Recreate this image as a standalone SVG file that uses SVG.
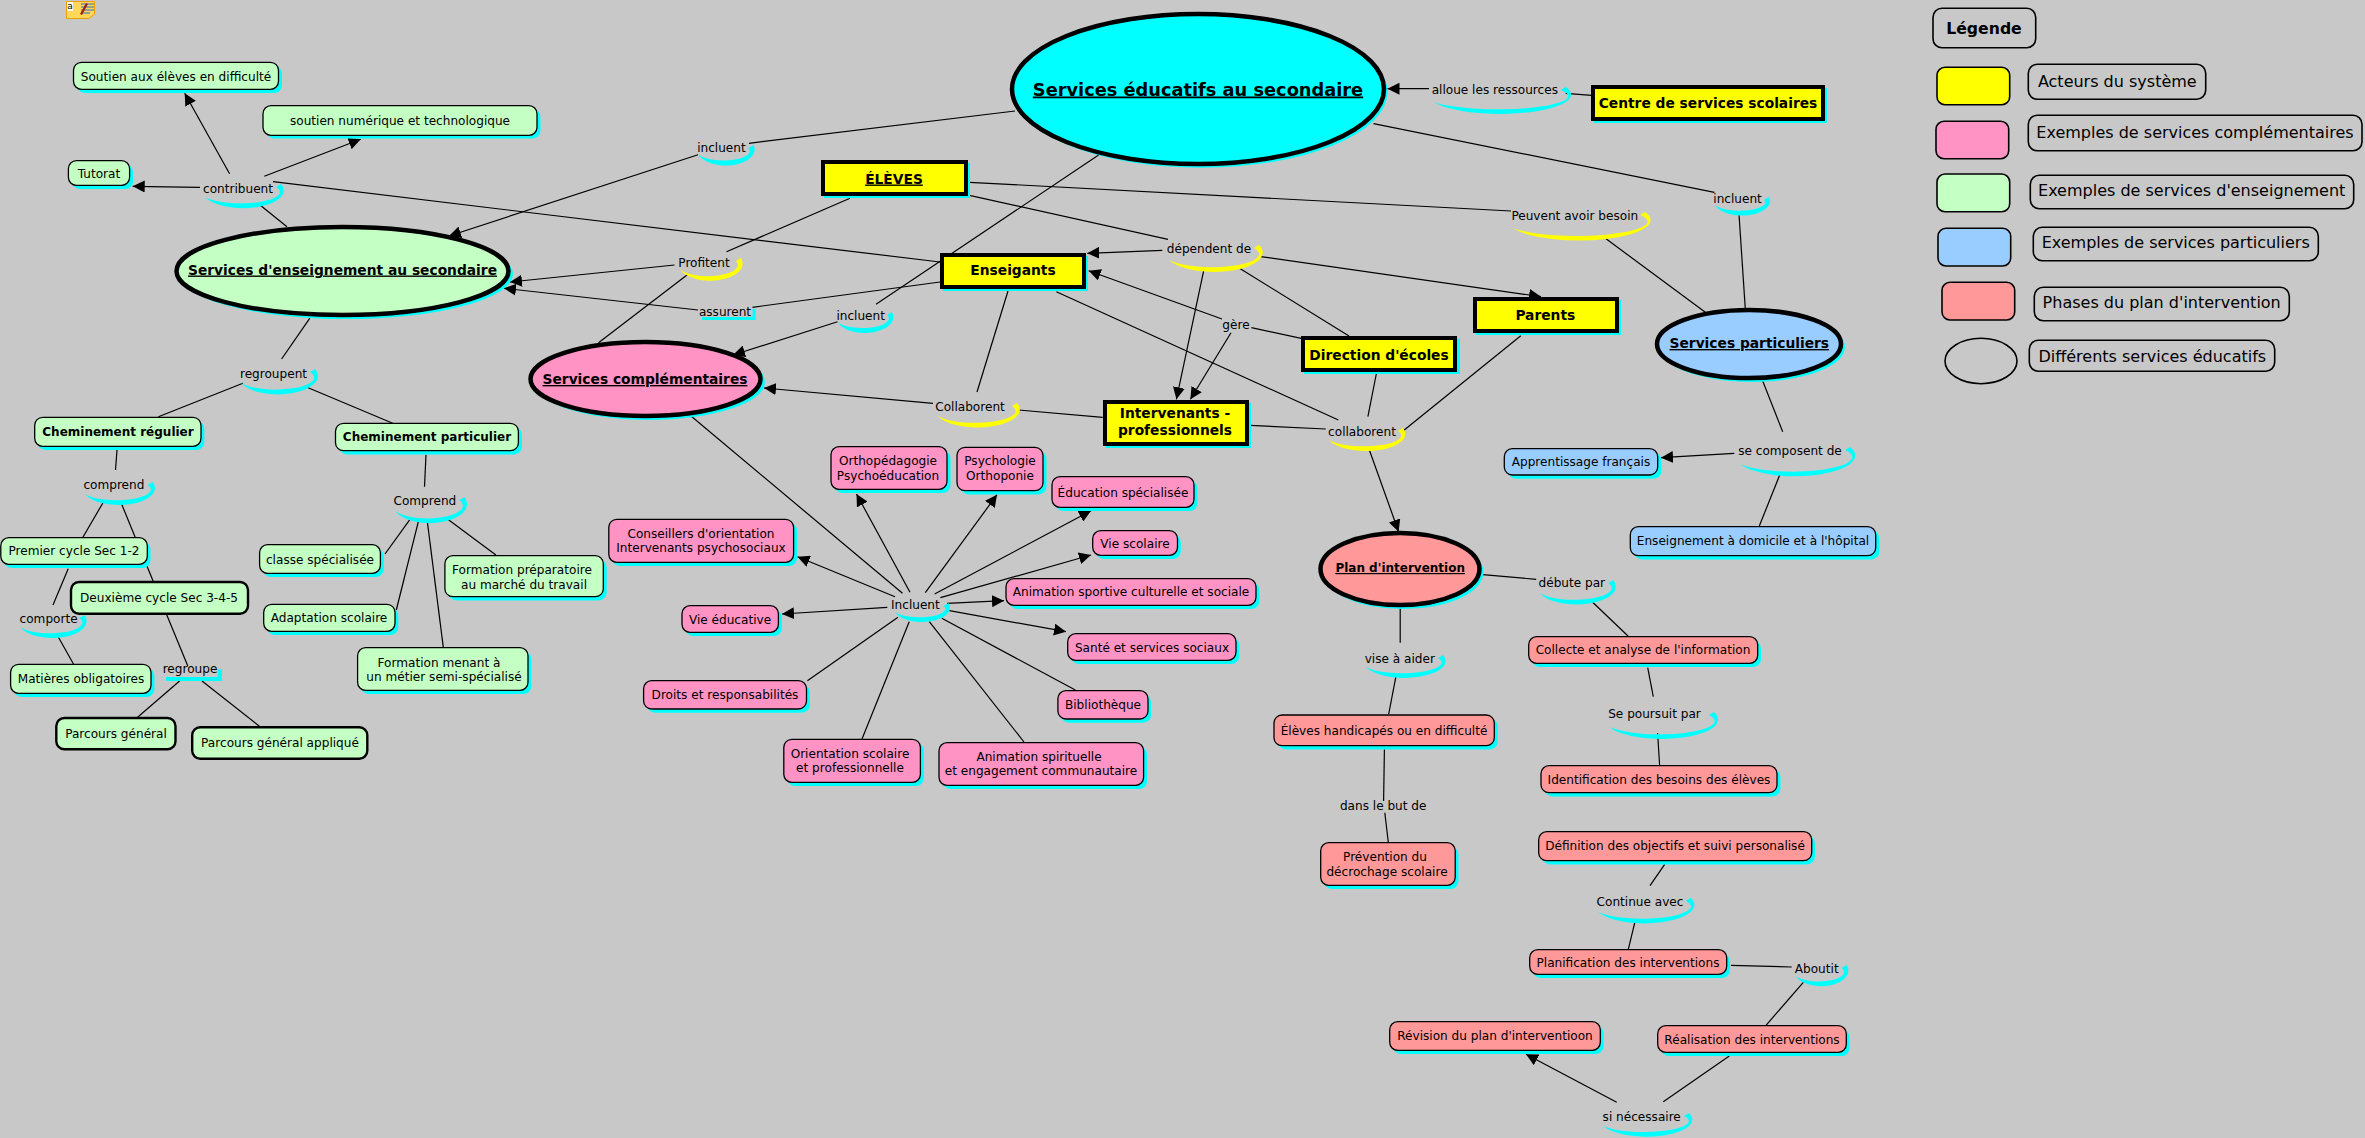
<svg xmlns="http://www.w3.org/2000/svg" width="2365" height="1138" viewBox="0 0 2365 1138">
<style>
text{font-family:"DejaVu Sans","Verdana",sans-serif;font-size:12.1px;fill:#000;text-anchor:middle}
.b{font-weight:bold;font-size:12px}
.u{text-decoration:underline}
.t{font-weight:bold;font-size:13.8px}
.lg{font-size:16px}
.c{stroke:#000;stroke-width:1.2;fill:none}
.a{marker-end:url(#ah)}
.s{fill:#0ff;stroke:none}
.y{fill:#ff0;stroke:none}
.n{stroke:#000;stroke-width:1.3}
.k{stroke:#000;stroke-width:2.4}
.e{stroke:#000;stroke-width:4.5}
.q{stroke:#000;stroke-width:4}
.g{fill:#c4ffc4}.p{fill:#ff93c3}.bl{fill:#99ccff}.r{fill:#ff9999}.ye{fill:#ff0}
.l{fill:none;stroke:#000;stroke-width:1.6}
</style>
<defs>
<marker id="ah" markerUnits="userSpaceOnUse" markerWidth="13" markerHeight="12" refX="12" refY="6" orient="auto"><path d="M0 0L12 6L0 12Z" fill="#000"/></marker>
</defs>
<rect width="2365" height="1138" fill="#c8c8c8"/>

<g id="connectors">
<line class="c a" x1="229.6" y1="173.7" x2="184.7" y2="93.3"/>
<line class="c a" x1="264.3" y1="176.3" x2="360.7" y2="139.3"/>
<line class="c a" x1="200" y1="187.3" x2="132.7" y2="186.3"/>
<line class="c" x1="273" y1="181.7" x2="940" y2="262"/>
<line class="c" x1="260" y1="205" x2="287" y2="226.7"/>
<line class="c" x1="749" y1="143.3" x2="1015" y2="111"/>
<line class="c a" x1="698" y1="154.7" x2="449" y2="236"/>
<line class="c" x1="726.5" y1="251.7" x2="850" y2="198.3"/>
<line class="c a" x1="674.5" y1="265" x2="510" y2="282"/>
<line class="c" x1="687" y1="275" x2="598.5" y2="342.7"/>
<line class="c" x1="752.5" y1="307.3" x2="940" y2="282"/>
<line class="c a" x1="698" y1="310" x2="504" y2="288.3"/>
<line class="c" x1="309.7" y1="318.3" x2="281.6" y2="359"/>
<line class="c a" x1="837.5" y1="321.7" x2="733" y2="355"/>
<line class="c a" x1="933" y1="403.3" x2="764" y2="388"/>
<line class="c" x1="242.9" y1="383.3" x2="158.4" y2="416.7"/>
<line class="c" x1="307" y1="387.3" x2="392.7" y2="423.3"/>
<line class="c" x1="117" y1="450" x2="115.5" y2="470"/>
<line class="c" x1="103" y1="502.7" x2="82.9" y2="537.3"/>
<line class="c" x1="121.6" y1="504" x2="153.5" y2="582"/>
<line class="c" x1="68.2" y1="568.7" x2="53" y2="605"/>
<line class="c" x1="58.4" y1="637.3" x2="73.5" y2="664"/>
<line class="c" x1="166.5" y1="614.3" x2="187.8" y2="666"/>
<line class="c" x1="179.6" y1="681" x2="136.7" y2="718"/>
<line class="c" x1="202" y1="681" x2="260" y2="726.7"/>
<line class="c" x1="426" y1="454.7" x2="424.5" y2="486.7"/>
<line class="c" x1="410" y1="519.3" x2="385" y2="554"/>
<line class="c" x1="418.4" y1="521.3" x2="396.3" y2="610"/>
<line class="c" x1="427.3" y1="521.3" x2="443.3" y2="647.3"/>
<line class="c" x1="447.8" y1="519.3" x2="495.9" y2="555"/>
<line class="c" x1="1591.6" y1="95.3" x2="1565.7" y2="93.3"/>
<line class="c a" x1="1429" y1="88.7" x2="1387.5" y2="88.7"/>
<line class="c" x1="1373.5" y1="123.7" x2="1714.4" y2="192.3"/>
<line class="c" x1="1739" y1="214.3" x2="1745.3" y2="309"/>
<line class="c" x1="969.4" y1="182.3" x2="1511" y2="211"/>
<line class="c" x1="1604" y1="237.3" x2="1706" y2="312.7"/>
<line class="c" x1="969.4" y1="195.3" x2="1168" y2="239.3"/>
<line class="c a" x1="1162.3" y1="250.3" x2="1087.3" y2="253.3"/>
<line class="c a" x1="1259" y1="256.3" x2="1541" y2="296.7"/>
<line class="c a" x1="1203.7" y1="270.7" x2="1176.4" y2="399.3"/>
<line class="c" x1="1239.5" y1="268.3" x2="1349" y2="336"/>
<line class="c" x1="1008" y1="291" x2="977" y2="392"/>
<line class="c" x1="1056.4" y1="291.7" x2="1338.4" y2="420"/>
<line class="c" x1="1099" y1="154.7" x2="876" y2="304.3"/>
<line class="c" x1="1301.2" y1="338.3" x2="1251.4" y2="327.7"/>
<line class="c a" x1="1222" y1="319" x2="1088.7" y2="270.7"/>
<line class="c a" x1="1231" y1="332.7" x2="1190.4" y2="399.3"/>
<line class="c" x1="1376.3" y1="374" x2="1367.9" y2="416.7"/>
<line class="c" x1="1520.8" y1="335.7" x2="1403" y2="431"/>
<line class="c" x1="1018.5" y1="410" x2="1102.7" y2="417.3"/>
<line class="c" x1="1250" y1="425.3" x2="1325.8" y2="429"/>
<line class="c a" x1="1369" y1="449" x2="1398.6" y2="531.7"/>
<line class="c" x1="1762.7" y1="381" x2="1782.7" y2="431.7"/>
<line class="c a" x1="1734.3" y1="453.3" x2="1661" y2="457.7"/>
<line class="c" x1="1780" y1="474.3" x2="1759.3" y2="526"/>
<line class="c" x1="691" y1="416" x2="902.5" y2="593.3"/>
<line class="c a" x1="895" y1="596.7" x2="797.6" y2="556.7"/>
<line class="c a" x1="910" y1="592.3" x2="856.5" y2="494"/>
<line class="c a" x1="925.3" y1="592.7" x2="997" y2="494.7"/>
<line class="c a" x1="934.6" y1="594" x2="1091" y2="510.7"/>
<line class="c a" x1="940.4" y1="597.7" x2="1091" y2="555"/>
<line class="c a" x1="947" y1="603.3" x2="1004" y2="600.7"/>
<line class="c a" x1="949.4" y1="610.7" x2="1066" y2="631.7"/>
<line class="c" x1="941.8" y1="618.3" x2="1075.3" y2="690"/>
<line class="c" x1="929.3" y1="621.7" x2="1024" y2="742"/>
<line class="c" x1="909.2" y1="621.7" x2="861.9" y2="739.3"/>
<line class="c" x1="898" y1="617.3" x2="807.4" y2="680.7"/>
<line class="c a" x1="887.3" y1="607.3" x2="782" y2="614"/>
<line class="c" x1="1482.8" y1="574.7" x2="1536.2" y2="579.3"/>
<line class="c" x1="1592.4" y1="602" x2="1628" y2="636"/>
<line class="c" x1="1647.7" y1="667.7" x2="1653.3" y2="696.7"/>
<line class="c" x1="1657.6" y1="733.3" x2="1659.6" y2="765"/>
<line class="c" x1="1400.2" y1="608.3" x2="1400.2" y2="642.7"/>
<line class="c" x1="1395.9" y1="676.7" x2="1388.7" y2="714"/>
<line class="c" x1="1384.4" y1="749.3" x2="1383.6" y2="801"/>
<line class="c" x1="1384.8" y1="812.7" x2="1388.3" y2="842.3"/>
<line class="c" x1="1664.7" y1="864.3" x2="1650" y2="885.7"/>
<line class="c" x1="1635" y1="921.7" x2="1628.3" y2="949.3"/>
<line class="c" x1="1731" y1="965.3" x2="1791.7" y2="967"/>
<line class="c" x1="1803.3" y1="982.3" x2="1766" y2="1025.3"/>
<line class="c" x1="1729.3" y1="1056" x2="1663.3" y2="1101.7"/>
<line class="c a" x1="1616.7" y1="1102.3" x2="1526" y2="1054.3"/>
</g>

<g id="icon">
<path d="M66.5 1.5H94.5V14L89 18.500H66.5Z" fill="#ffd75a" stroke="#eba000"/>
<rect x="67" y="2" width="6" height="9" fill="#fff"/>
<text x="70" y="9" style="font-size:9px">a</text>
<path d="M81 4H94M81 7H94M81 10H94M81 13H90" stroke="#2a6fc0" stroke-width="1" fill="none"/>
<path d="M80 14L86 3L88 4L82 15Z" fill="#a02020"/>
</g>

<g id="n-educ"><ellipse class="s" cx="1201" cy="92" rx="186.6" ry="75.7"/><ellipse class="e" cx="1198" cy="89" rx="186" ry="75" fill="#0ff"/><text class="u" x="1198" y="95.5" style="font-size:17.8px;font-weight:bold">Services éducatifs au secondaire</text></g>
<g id="n-ens-sec"><ellipse class="s" cx="346" cy="274" rx="167" ry="45"/><ellipse class="e g" cx="342.5" cy="271" rx="166" ry="44"/><text class="t u" x="342.5" y="274.5">Services d'enseignement au secondaire</text></g>
<g id="n-compl"><ellipse class="s" cx="649" cy="382" rx="116" ry="38"/><ellipse class="e p" cx="645.5" cy="379" rx="115" ry="37"/><text class="t u" x="645" y="384">Services complémentaires</text></g>
<g id="n-part"><ellipse class="s" cx="1752" cy="347" rx="93" ry="35"/><ellipse class="e bl" cx="1749" cy="344" rx="92" ry="34"/><text class="t u" x="1749.3" y="348">Services particuliers</text></g>
<g id="n-plan"><ellipse class="s" cx="1403" cy="572" rx="80.5" ry="37"/><ellipse class="e r" cx="1400" cy="569" rx="79.5" ry="36"/><text class="b u" x="1400.2" y="572">Plan d'intervention</text></g>

<g id="n-eleves"><rect class="s" x="824" y="163" width="146" height="35"/><rect class="q ye" x="823" y="162" width="143" height="32"/><text class="t u" x="894" y="183.5">ÉLÈVES</text></g>
<g id="n-enseignants"><rect class="s" x="943" y="256" width="145" height="35"/><rect class="q ye" x="942" y="255" width="142" height="32"/><text class="t" x="1013" y="275">Enseigants</text></g>
<g id="n-centre"><rect class="s" x="1594" y="88" width="233" height="35"/><rect class="q ye" x="1593" y="87" width="230" height="32"/><text class="t" x="1708" y="108">Centre de services scolaires</text></g>
<g id="n-parents"><rect class="s" x="1476" y="300" width="145" height="35"/><rect class="q ye" x="1475" y="299" width="142" height="32"/><text class="t" x="1545.3" y="320">Parents</text></g>
<g id="n-direction"><rect class="s" x="1304" y="339" width="156" height="35"/><rect class="q ye" x="1303" y="338" width="152" height="32"/><text class="t" x="1379" y="359.5">Direction d'écoles</text></g>
<g id="n-interv"><rect class="s" x="1106" y="403" width="145" height="45"/><rect class="q ye" x="1105" y="402" width="142" height="42"/><text class="t" x="1175" y="418">Intervenants -</text><text class="t" x="1175" y="434.5">professionnels</text></g>

<g id="n-soutien"><rect class="s" x="77" y="66" width="205" height="27" rx="8"/><rect class="n g" x="73.5" y="62.3" width="205" height="27" rx="8"/><text x="176" y="80.5">Soutien aux élèves en difficulté</text></g>
<g id="n-numerique"><rect class="s" x="266.5" y="109" width="274" height="29.6" rx="8"/><rect class="n g" x="263" y="105.7" width="274" height="29.6" rx="8"/><text x="400" y="124.5">soutien numérique et technologique</text></g>
<g id="n-tutorat"><rect class="s" x="72" y="164.5" width="61.2" height="24.6" rx="8"/><rect class="n g" x="68.4" y="160.7" width="61.2" height="24.6" rx="8"/><text x="99" y="177.5">Tutorat</text></g>
<g id="n-chemreg"><rect class="s" x="38" y="421" width="166.3" height="29" rx="8"/><rect class="n g" x="34.7" y="417.3" width="166.3" height="29" rx="8"/><text class="b" x="118" y="436">Cheminement régulier</text></g>
<g id="n-chempart"><rect class="s" x="339" y="427" width="182.9" height="27.4" rx="8"/><rect class="n g" x="335.5" y="423.3" width="182.9" height="27.4" rx="8"/><text class="b" x="427" y="440.5">Cheminement particulier</text></g>
<g id="n-premier"><rect class="s" x="4" y="541.4" width="146.5" height="26.6" rx="8"/><rect class="n g" x="0.8" y="537.7" width="146.5" height="26.6" rx="8"/><text x="74" y="554.5">Premier cycle Sec 1-2</text></g>
<g id="n-deuxieme"><rect class="k g" x="71" y="582" width="177" height="31.7" rx="8"/><text x="159" y="602">Deuxième cycle Sec 3-4-5</text></g>
<g id="n-matieres"><rect class="s" x="14" y="668" width="140.4" height="29" rx="8"/><rect class="n g" x="10.6" y="664.3" width="140.4" height="29" rx="8"/><text x="81" y="683">Matières obligatoires</text></g>
<g id="n-pgen"><rect class="k g" x="56.3" y="718" width="119.2" height="31.3" rx="8"/><text x="116" y="738">Parcours général</text></g>
<g id="n-papp"><rect class="k g" x="192.2" y="727.3" width="175.1" height="31.4" rx="8"/><text x="280" y="747">Parcours général appliqué</text></g>
<g id="n-classe"><rect class="s" x="263" y="548.4" width="120.8" height="28.6" rx="8"/><rect class="n g" x="259.6" y="544.7" width="120.8" height="28.6" rx="8"/><text x="320" y="563.5">classe spécialisée</text></g>
<g id="n-adapt"><rect class="s" x="267" y="608" width="131.3" height="27" rx="8"/><rect class="n g" x="263.7" y="604.3" width="131.3" height="27" rx="8"/><text x="329" y="621.5">Adaptation scolaire</text></g>
<g id="n-fprep"><rect class="s" x="448.3" y="559.4" width="158.4" height="41" rx="8"/><rect class="n g" x="444.9" y="555.7" width="158.4" height="41" rx="8"/><text x="522" y="574">Formation préparatoire</text><text x="524" y="588.5">au marché du travail</text></g>
<g id="n-fmetier"><rect class="s" x="361" y="651.4" width="170.4" height="42.6" rx="8"/><rect class="n g" x="357.6" y="647.7" width="170.4" height="42.6" rx="8"/><text x="439" y="666.5">Formation menant à</text><text x="444" y="681">un métier semi-spécialisé</text></g>

<g id="n-ortho"><rect class="s" x="834.5" y="450.4" width="116" height="42.6" rx="8"/><rect class="n p" x="831" y="446.7" width="116" height="42.6" rx="8"/><text x="888" y="465">Orthopédagogie</text><text x="888" y="479.5">Psychoéducation</text></g>
<g id="n-psycho"><rect class="s" x="960.5" y="451" width="86" height="43.4" rx="8"/><rect class="n p" x="957" y="447.3" width="86" height="43.4" rx="8"/><text x="1000" y="465">Psychologie</text><text x="1000" y="479.5">Orthoponie</text></g>
<g id="n-educspe"><rect class="s" x="1055.5" y="480.4" width="142" height="30.6" rx="8"/><rect class="n p" x="1052" y="476.7" width="142" height="30.6" rx="8"/><text x="1123" y="497">Éducation spécialisée</text></g>
<g id="n-viesco"><rect class="s" x="1096" y="534.4" width="84.8" height="24.6" rx="8"/><rect class="n p" x="1092.7" y="530.7" width="84.8" height="24.6" rx="8"/><text x="1135" y="547.5">Vie scolaire</text></g>
<g id="n-anim"><rect class="s" x="1009.5" y="582.4" width="250" height="26.6" rx="8"/><rect class="n p" x="1006" y="578.7" width="250" height="26.6" rx="8"/><text x="1131" y="595.5">Animation sportive culturelle et sociale</text></g>
<g id="n-sante"><rect class="s" x="1071" y="637.4" width="168.3" height="26.6" rx="8"/><rect class="n p" x="1067.7" y="633.7" width="168.3" height="26.6" rx="8"/><text x="1152" y="652">Santé et services sociaux</text></g>
<g id="n-biblio"><rect class="s" x="1061" y="694.4" width="90.1" height="28.3" rx="8"/><rect class="n p" x="1057.9" y="690.7" width="90.1" height="28.3" rx="8"/><text x="1103" y="709">Bibliothèque</text></g>
<g id="n-spirit"><rect class="s" x="942.5" y="746.4" width="204.6" height="42.6" rx="8"/><rect class="n p" x="939" y="742.7" width="204.6" height="42.6" rx="8"/><text x="1039" y="760.5">Animation spirituelle</text><text x="1041" y="775">et engagement communautaire</text></g>
<g id="n-orient"><rect class="s" x="787.3" y="743" width="136.6" height="43" rx="8"/><rect class="n p" x="783.8" y="739.3" width="136.6" height="43" rx="8"/><text x="850" y="757.5">Orientation scolaire</text><text x="850" y="772">et professionnelle</text></g>
<g id="n-droits"><rect class="s" x="647" y="684.4" width="162.9" height="28.3" rx="8"/><rect class="n p" x="643.6" y="680.7" width="162.9" height="28.3" rx="8"/><text x="725" y="699">Droits et responsabilités</text></g>
<g id="n-vieedu"><rect class="s" x="685.5" y="609.4" width="96.4" height="26.6" rx="8"/><rect class="n p" x="682" y="605.7" width="96.4" height="26.6" rx="8"/><text x="730" y="623.5">Vie éducative</text></g>
<g id="n-conseil"><rect class="s" x="612.3" y="523" width="184.8" height="43" rx="8"/><rect class="n p" x="608.8" y="519.3" width="184.8" height="43" rx="8"/><text x="701" y="537.5">Conseillers d'orientation</text><text x="701" y="552">Intervenants psychosociaux</text></g>

<g id="n-apprent"><rect class="s" x="1508" y="452.4" width="153.4" height="26.3" rx="8"/><rect class="n bl" x="1504.3" y="448.7" width="153.4" height="26.3" rx="8"/><text x="1581" y="465.5">Apprentissage français</text></g>
<g id="n-domicile"><rect class="s" x="1634" y="530.4" width="245.4" height="29" rx="8"/><rect class="n bl" x="1630.3" y="526.7" width="245.4" height="29" rx="8"/><text x="1753" y="545">Enseignement à domicile et à l'hôpital</text></g>

<g id="n-collecte"><rect class="s" x="1532" y="640.4" width="229" height="26.6" rx="8"/><rect class="n r" x="1528.7" y="636.7" width="229" height="26.6" rx="8"/><text x="1643" y="653.5">Collecte et analyse de l'information</text></g>
<g id="n-identif"><rect class="s" x="1544.5" y="769.4" width="236" height="27" rx="8"/><rect class="n r" x="1541" y="765.7" width="236" height="27" rx="8"/><text x="1659" y="783.5">Identification des besoins des élèves</text></g>
<g id="n-handicap"><rect class="s" x="1277.5" y="718.7" width="220.3" height="30.7" rx="8"/><rect class="n r" x="1274" y="715" width="220.3" height="30.7" rx="8"/><text x="1384" y="734.5">Élèves handicapés ou en difficulté</text></g>
<g id="n-prevention"><rect class="s" x="1324" y="846.4" width="134.5" height="42.6" rx="8"/><rect class="n r" x="1320.7" y="842.7" width="134.5" height="42.6" rx="8"/><text x="1385" y="861">Prévention du</text><text x="1387" y="875.5">décrochage scolaire</text></g>
<g id="n-definition"><rect class="s" x="1542" y="835.4" width="273" height="29" rx="8"/><rect class="n r" x="1538.7" y="831.7" width="273" height="29" rx="8"/><text x="1675" y="850">Définition des objectifs et suivi personalisé</text></g>
<g id="n-planif"><rect class="s" x="1533" y="953.4" width="197" height="24.6" rx="8"/><rect class="n r" x="1529.7" y="949.7" width="197" height="24.6" rx="8"/><text x="1628" y="966.5">Planification des interventions</text></g>
<g id="n-realis"><rect class="s" x="1661" y="1029.4" width="188.6" height="26.6" rx="8"/><rect class="n r" x="1657.7" y="1025.7" width="188.6" height="26.6" rx="8"/><text x="1752" y="1044">Réalisation des interventions</text></g>
<g id="n-revision"><rect class="s" x="1393" y="1025.4" width="210.6" height="28.6" rx="8"/><rect class="n r" x="1389.7" y="1021.7" width="210.6" height="28.6" rx="8"/><text x="1495" y="1040">Révision du plan d'interventioon</text></g>

<g id="p-contribuent"><path class="s" d="M281 184A37 16 0 0 1 205 197A35 10 0 0 0 276 187Z"/><text x="238" y="192.5">contribuent</text></g>
<g id="p-incluent1"><path class="s" d="M753.5 145A27 15 0 0 1 698 154A25 9 0 0 0 748.5 148Z"/><text x="721.4" y="152">incluent</text></g>
<g id="p-profitent"><path class="y" d="M741 258A30 16 0 0 1 679.6 269A27 10 0 0 0 736 261Z"/><text x="704" y="266.5">Profitent</text></g>
<g id="p-assurent"><path class="s" d="M752.5 309H755.6V320H702V317H752.5Z"/><text x="725" y="316">assurent</text></g>
<g id="p-regroupent"><path class="s" d="M315 369A37 17 0 0 1 241 383A35 11 0 0 0 310 372Z"/><text x="273.5" y="378">regroupent</text></g>
<g id="p-comprend1"><path class="s" d="M152.7 482A34 16 0 0 1 85 494A32 10 0 0 0 147.7 485Z"/><text x="113.9" y="488.5">comprend</text></g>
<g id="p-comprend2"><path class="s" d="M464.5 497A35 18 0 0 1 395 511A33 12 0 0 0 459.5 500Z"/><text x="424.9" y="505">Comprend</text></g>
<g id="p-comporte"><path class="s" d="M84.5 615A32 16 0 0 1 20.4 627A30 10 0 0 0 79.5 618Z"/><text x="48.6" y="622.5">comporte</text></g>
<g id="p-regroupe"><path class="s" d="M217.5 669.3H222V681H166V677H217.5Z"/><text x="190" y="673">regroupe</text></g>
<g id="p-incluent2"><path class="s" d="M892 312A27 15 0 0 1 837.5 322A25 9 0 0 0 887 315Z"/><text x="860.7" y="319.5">incluent</text></g>
<g id="p-incluent3"><path class="s" d="M948.5 603A27 14 0 0 1 895 612A25 8 0 0 0 943.5 606Z"/><text x="915.4" y="609">Incluent</text></g>
<g id="p-alloue"><path class="s" d="M1565.7 87A66 18 0 0 1 1433.8 102A64 12 0 0 0 1560.7 90Z"/><text x="1494.8" y="93.5">alloue les ressources</text></g>
<g id="p-incluent4"><path class="s" d="M1769 197A27 14 0 0 1 1715 205A25 8 0 0 0 1764 200Z"/><text x="1737.6" y="202.5">incluent</text></g>
<g id="p-peuvent"><path class="y" d="M1645 212A66 19 0 0 1 1513 228A64 13 0 0 0 1640 215Z"/><text x="1574.8" y="219.5">Peuvent avoir besoin</text></g>
<g id="p-dependent"><path class="y" d="M1259 245A45 18 0 0 1 1169 260A43 12 0 0 0 1254 248Z"/><text x="1209" y="253">dépendent de</text></g>
<g id="p-gere"><text x="1236" y="328.5">gère</text></g>
<g id="p-collab1"><path class="y" d="M1017 403A40 17 0 0 1 937.8 416A38 11 0 0 0 1012 406Z"/><text x="970" y="411">Collaborent</text></g>
<g id="p-collab2"><path class="y" d="M1403 428A37 16 0 0 1 1329 440A35 10 0 0 0 1398 431Z"/><text x="1362" y="435.5">collaborent</text></g>
<g id="p-composent"><path class="s" d="M1850 447A55 19 0 0 1 1740 464A53 13 0 0 0 1845 450Z"/><text x="1790" y="454.5">se composent de</text></g>
<g id="p-debute"><path class="s" d="M1613.3 580A37 17 0 0 1 1539.8 593A35 11 0 0 0 1608.3 583Z"/><text x="1571.8" y="587">débute par</text></g>
<g id="p-poursuit"><path class="s" d="M1713.8 712A52 18 0 0 1 1609.4 727A50 12 0 0 0 1708.8 715Z"/><text x="1654.5" y="718">Se poursuit par</text></g>
<g id="p-vise"><path class="s" d="M1443 655A39 16 0 0 1 1365.8 667A37 10 0 0 0 1438 658Z"/><text x="1399.8" y="663">vise à aider</text></g>
<g id="p-dans"><text x="1383.2" y="810">dans le but de</text></g>
<g id="p-continue"><path class="s" d="M1690.7 898A46 17 0 0 1 1598.3 912A44 11 0 0 0 1685.7 901Z"/><text x="1640" y="906">Continue avec</text></g>
<g id="p-aboutit"><path class="s" d="M1846.7 965A26 15 0 0 1 1795.7 976A24 9 0 0 0 1841.7 968Z"/><text x="1816.7" y="973">Aboutit</text></g>
<g id="p-sinecessaire"><path class="s" d="M1689 1113A43 16 0 0 1 1603.3 1126A41 10 0 0 0 1684 1116Z"/><text x="1641.7" y="1121">si nécessaire</text></g>

<g id="legende">
<rect class="l" x="1933" y="8.3" width="102.7" height="39.4" rx="9"/><text x="1984" y="33.5" style="font-size:15.7px;font-weight:bold">Légende</text>
<rect class="l" style="fill:#ff0" x="1937" y="67.3" width="72.7" height="37.4" rx="8"/>
<rect class="l" style="fill:#ff93c3" x="1936" y="121.3" width="72.7" height="37.4" rx="8"/>
<rect class="l" style="fill:#c4ffc4" x="1937" y="174" width="72.7" height="37.7" rx="8"/>
<rect class="l" style="fill:#99ccff" x="1938" y="228.3" width="72.7" height="37.7" rx="8"/>
<rect class="l" style="fill:#ff9999" x="1942" y="282.3" width="72.7" height="37.7" rx="8"/>
<ellipse class="l" cx="1981" cy="361" rx="36" ry="22.7"/>
<rect class="l" x="2028.3" y="64.3" width="177.4" height="35" rx="9"/><text class="lg" x="2117.3" y="87">Acteurs du système</text>
<rect class="l" x="2028.3" y="115.3" width="333.7" height="35.4" rx="9"/><text class="lg" x="2195" y="138">Exemples de services complémentaires</text>
<rect class="l" x="2030.3" y="175.3" width="323.4" height="33.4" rx="9"/><text class="lg" x="2191.7" y="196">Exemples de services d'enseignement</text>
<rect class="l" x="2033.3" y="227.3" width="285" height="33.4" rx="9"/><text class="lg" x="2175.7" y="248">Exemples de services particuliers</text>
<rect class="l" x="2034.3" y="287.3" width="255" height="33.4" rx="9"/><text class="lg" x="2161.7" y="308">Phases du plan d'intervention</text>
<rect class="l" x="2029.3" y="340.3" width="245.4" height="31" rx="9"/><text class="lg" x="2152.3" y="362">Différents services éducatifs</text>
</g>
</svg>
